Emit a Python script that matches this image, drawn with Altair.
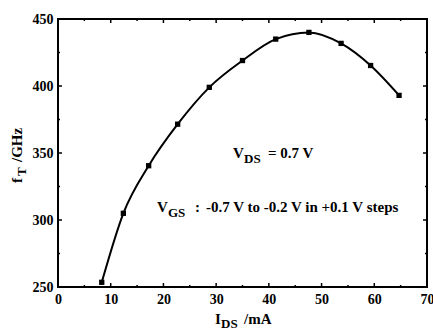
import altair as alt
import pandas as pd

# Data
ids_ma = [8.3, 12.4, 17.2, 22.7, 28.7, 35.0, 41.3, 47.6, 53.7, 59.3, 64.7]
ft_ghz = [253.5, 305.0, 340.5, 371.5, 399.0, 419.0, 435.0, 440.0, 431.8, 415.3, 393.0]

x_major = [0, 10, 20, 30, 40, 50, 60, 70]
x_minor = [5, 15, 25, 35, 45, 55, 65]
y_major = [250, 300, 350, 400, 450]
y_minor = [275, 325, 375, 425]

W, H = 369, 268
FONT = "Liberation Serif"

df = pd.DataFrame({"ids": ids_ma, "ft": ft_ghz})
xs = alt.Scale(domain=[0, 70], nice=False, zero=False)
ys = alt.Scale(domain=[250, 450], nice=False, zero=False)
x_axis = alt.Axis(values=x_major, title=None)
y_axis = alt.Axis(values=y_major, title=None)

base = alt.Chart(df)

line = base.mark_line(color="black", strokeWidth=2, interpolate="monotone").encode(
    x=alt.X("ids:Q", scale=xs, axis=x_axis),
    y=alt.Y("ft:Q", scale=ys, axis=y_axis),
)
pts = base.mark_point(shape="square", filled=True, color="black", size=28, opacity=1).encode(
    x=alt.X("ids:Q", scale=xs, axis=x_axis), y=alt.Y("ft:Q", scale=ys, axis=y_axis)
)


def xticks(vals, length):
    d = alt.Chart(pd.DataFrame({"t": vals}))
    bottom = d.mark_rule(color="black", strokeWidth=1.5).encode(
        x=alt.X("t:Q", scale=xs, axis=x_axis), y=alt.value(H), y2=alt.value(H - length))
    top = d.mark_rule(color="black", strokeWidth=1.5).encode(
        x=alt.X("t:Q", scale=xs, axis=x_axis), y=alt.value(0), y2=alt.value(length))
    return [bottom, top]


def yticks(vals, length):
    d = alt.Chart(pd.DataFrame({"t": vals}))
    left = d.mark_rule(color="black", strokeWidth=1.5).encode(
        y=alt.Y("t:Q", scale=ys, axis=y_axis), x=alt.value(0), x2=alt.value(length))
    right = d.mark_rule(color="black", strokeWidth=1.5).encode(
        y=alt.Y("t:Q", scale=ys, axis=y_axis), x=alt.value(W), x2=alt.value(W - length))
    return [left, right]


def label(text, x, y, size=15, angle=0):
    kw = {}
    if angle:
        kw["angle"] = angle
    return alt.Chart(pd.DataFrame({"a": [0]})).mark_text(
        text=text, font=FONT, fontWeight="bold", fontSize=size, color="black",
        align="left", baseline="alphabetic", **kw
    ).encode(x=alt.value(x), y=alt.value(y))


texts = [
    # V_DS = 0.7 V
    label("V", 175, 139),
    label("DS", 186, 144, 13),
    label("= 0.7 V", 210, 139),
    # V_GS : ...
    label("V", 99, 193),
    label("GS", 110, 198, 13),
    label(":", 137, 193),
    label("-0.7 V to -0.2 V in +0.1 V steps", 148, 193),
    # x title
    label("I", 157, 305),
    label("DS", 163, 309, 13),
    label("/mA", 186, 305),
    # y title (rotated)
    label("f", -36, 164, 15, 270),
    label("T", -32, 157, 13, 270),
    label("/GHz", -36, 143, 15, 270),
]

layers = [line, pts] + xticks(x_major, 4) + xticks(x_minor, 2) + yticks(y_major, 4) + yticks(y_minor, 2) + texts

chart = alt.layer(*layers).properties(
    width=W, height=H,
    autosize=alt.AutoSizeParams(type="none"),
    padding={"left": 58, "top": 19, "right": 6, "bottom": 43},
    background="white",
).configure_view(
    stroke="black", strokeWidth=2
).configure_axis(
    domain=False, ticks=False, grid=False, labelFont=FONT, labelFontWeight="bold",
    labelFontSize=14, labelPadding=5, labelColor="black", labelFlush=False,
)

chart.save("out.html", embed_options={"renderer": "svg", "actions": False})
